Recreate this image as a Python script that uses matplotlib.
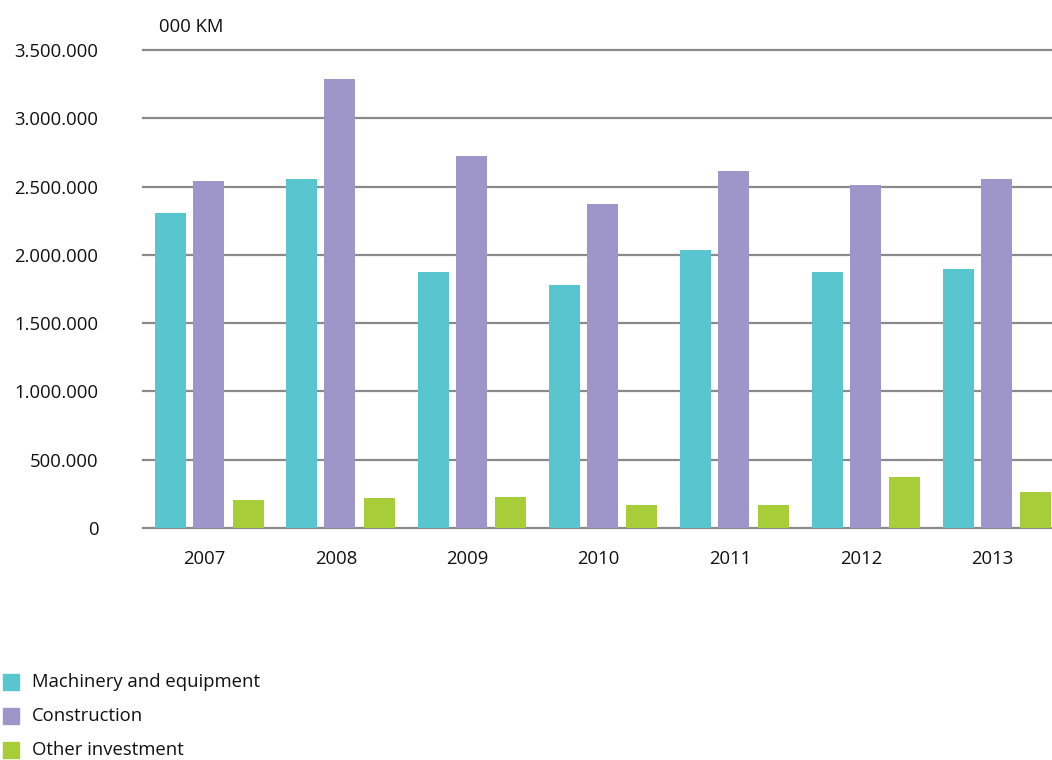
import matplotlib
matplotlib.use("Agg")
import matplotlib.pyplot as plt
from matplotlib.patches import Rectangle
from matplotlib.ticker import FuncFormatter
import numpy as np

plt.rcParams['font.family'] = ['Open Sans', 'DejaVu Sans']

years = ["2007", "2008", "2009", "2010", "2011", "2012", "2013"]
series_names = ["Machinery and equipment", "Construction", "Other investment"]
machinery = [2306000, 2555000, 1874000, 1779000, 2035000, 1874000, 1896000]
construction = [2540000, 3287000, 2723000, 2372000, 2613000, 2511000, 2555000]
other = [205000, 220000, 227000, 168000, 168000, 373000, 264000]
colors = ["#58C5CF", "#9E96C8", "#A7CD39"]
yticks = [0, 500000, 1000000, 1500000, 2000000, 2500000, 3000000, 3500000]

FS = 13.3
TC = "#111111"

fig = plt.figure(figsize=(10.52, 7.6), dpi=100)
ax = fig.add_axes([143/1052, 1-528/760, (1051-143)/1052, (528-50)/760])

x = np.arange(len(years))
offsets = [-0.29, 0.0, 0.3]
width = 0.236
for vals, off, c in zip([machinery, construction, other], offsets, colors):
    ax.bar(x + off, vals, width=width, color=c, zorder=3)

for t in yticks:
    ax.axhline(t, color="#8a8a8a", lw=1.6, zorder=2, clip_on=False)

ax.set_ylim(0, 3500000)
ax.set_xlim(-0.5, 6.415)
for s in ax.spines.values():
    s.set_visible(False)

def fmt(v, pos):
    return f"{int(v):,}".replace(",", ".")

ax.set_yticks(yticks)
ax.yaxis.set_major_formatter(FuncFormatter(fmt))
ax.set_xticks(x - 0.03)
ax.set_xticklabels(years)
ax.tick_params(axis='both', length=0, labelsize=FS, colors=TC)
ax.tick_params(axis='y', pad=32)
ax.tick_params(axis='x', pad=16)

fig.text(159/1052, 1-27/760, "000 KM", fontsize=FS, color=TC, va="center", ha="left")

# legend
for i, (name, c) in enumerate(zip(series_names, colors)):
    yc = 682 + i*34
    fig.add_artist(Rectangle((3/1052, 1-(yc+8)/760), 16/1052, 16/760, color=c,
                             transform=fig.transFigure))
    fig.text(32/1052, 1-yc/760, name, fontsize=FS, color=TC, va="center", ha="left")

fig.savefig("out.png", dpi=100)
